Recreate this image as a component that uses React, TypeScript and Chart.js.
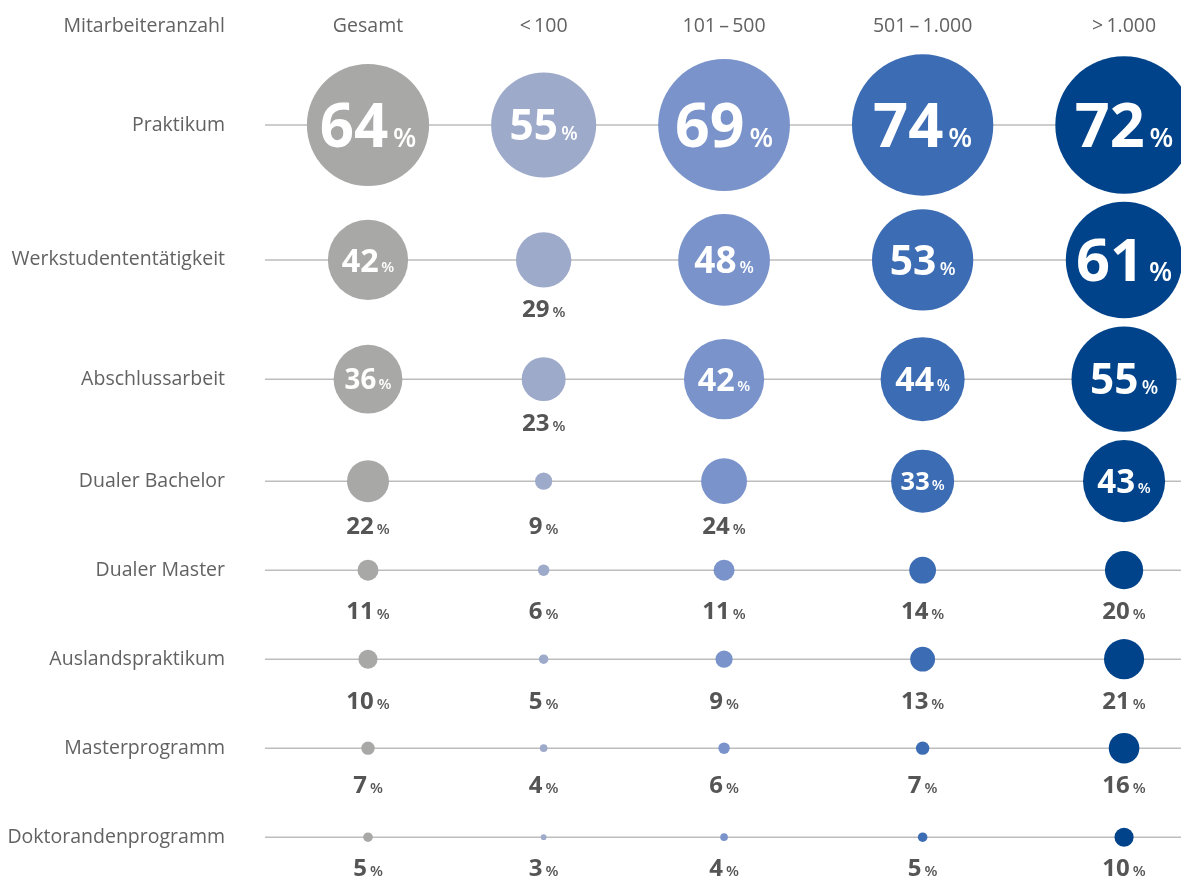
import React, { useEffect, useRef } from 'react';
import { Chart, registerables, BubbleController } from 'chart.js';

// bubble controller without the automatic chart-area inset for large radii
class FlatBubbleController extends (BubbleController as any) {
  static id = 'flatBubble';
  getMaxOverflow() {
    return 0;
  }
}

Chart.register(...registerables, FlatBubbleController as any);

// ---- data ----
const headerLabel = 'Mitarbeiteranzahl';
const columns = ['Gesamt', '<\u2009100', '101\u2009–\u2009500', '501\u2009–\u20091.000', '>\u20091.000'];
const rows = [
  'Praktikum',
  'Werkstudententätigkeit',
  'Abschlussarbeit',
  'Dualer Bachelor',
  'Dualer Master',
  'Auslandspraktikum',
  'Masterprogramm',
  'Doktorandenprogramm',
];
const gesamt = [64, 42, 36, 22, 11, 10, 7, 5];
const unter100 = [55, 29, 23, 9, 6, 5, 4, 3];
const von101bis500 = [69, 48, 42, 24, 11, 9, 6, 4];
const von501bis1000 = [74, 53, 44, 33, 14, 13, 7, 5];
const ueber1000 = [72, 61, 55, 43, 20, 21, 16, 10];
const series = [gesamt, unter100, von101bis500, von501bis1000, ueber1000];

// ---- styles / layout rules ----
const colors = ['#a8a8a7', '#9eaaca', '#7a94cb', '#3c6cb4', '#00438a'];
const W = 1181;
const H = 877;
const R_PER_PCT = 0.955;
const INSIDE_MIN = 30;
const FIRST_COL_X = 368;
const COL_GAP = 62;
const FIRST_ROW_Y = 125;
const ROW_GAP = 6;
const MIN_ROW_STEP = 89;
const OUT_LABEL_OFFSET = 21;
const OUT_LABEL_SPACE = 33;
const LINE_START = 265;
const LABEL_RIGHT = 225;
const HEADER_Y = 26;
const FONT = '"Open Sans", "DejaVu Sans", sans-serif';

const insideFont = (v: number) => (v < 58 ? 0.77 * v : 60 + (v - 64) * 0.15);

export default function App() {
  const ref = useRef<HTMLCanvasElement>(null);

  useEffect(() => {
    document.body.style.margin = '0';
    const canvas = ref.current;
    if (!canvas) return;

    const radius = (v: number) => v * R_PER_PCT;

    // column positions from maximal bubble size per column
    const colMaxR = series.map((s) => Math.max(...s.map(radius)));
    const colX: number[] = [FIRST_COL_X];
    for (let i = 1; i < series.length; i++) {
      colX.push(colX[i - 1] + colMaxR[i - 1] + colMaxR[i] + COL_GAP);
    }

    // row positions from maximal bubble size and label space per row
    const rowTop: number[] = [];
    const rowBottom: number[] = [];
    const rowOutR: number[] = [];
    rows.forEach((_, ri) => {
      const vals = series.map((s) => s[ri]);
      const maxR = Math.max(...vals.map(radius));
      const outside = vals.filter((v) => v < INSIDE_MIN).map(radius);
      const outR = outside.length ? Math.max(...outside) : 0;
      rowOutR.push(outR);
      rowTop.push(maxR);
      rowBottom.push(Math.max(maxR, outside.length ? outR + OUT_LABEL_SPACE : 0));
    });
    const rowY: number[] = [FIRST_ROW_Y];
    for (let i = 1; i < rows.length; i++) {
      rowY.push(rowY[i - 1] + Math.max(rowBottom[i - 1] + rowTop[i] + ROW_GAP, MIN_ROW_STEP));
    }

    const datasets = series.map((s, ci) => ({
      label: columns[ci],
      data: s.map((v, ri) => ({ x: colX[ci], y: rowY[ri], r: radius(v), v, ri })),
      backgroundColor: colors[ci],
      borderWidth: 0,
      hoverRadius: 0,
      hoverBorderWidth: 0,
      clip: false as any,
    }));

    const drawValue = (
      ctx: CanvasRenderingContext2D,
      cx: number,
      baseline: number,
      v: number,
      numSize: number,
      pctSize: number,
      color: string,
      gap: number
    ) => {
      ctx.fillStyle = color;
      ctx.textBaseline = 'alphabetic';
      ctx.textAlign = 'left';
      ctx.font = `bold ${numSize}px ${FONT}`;
      const numW = ctx.measureText(String(v)).width;
      ctx.font = `600 ${pctSize}px ${FONT}`;
      const pctW = ctx.measureText('%').width;
      const total = numW + gap + pctW;
      const x0 = cx - total / 2;
      ctx.font = `bold ${numSize}px ${FONT}`;
      ctx.fillText(String(v), x0, baseline);
      ctx.font = `600 ${pctSize}px ${FONT}`;
      ctx.fillText('%', x0 + numW + gap, baseline);
    };

    const gridPlugin = {
      id: 'rowLines',
      beforeDatasetsDraw(chart: any) {
        const { ctx, scales } = chart;
        ctx.save();
        ctx.strokeStyle = '#bdbdbd';
        ctx.lineWidth = 1.5;
        rowY.forEach((y) => {
          const py = scales.y.getPixelForValue(y);
          ctx.beginPath();
          ctx.moveTo(scales.x.getPixelForValue(LINE_START), py);
          ctx.lineTo(scales.x.getPixelForValue(W), py);
          ctx.stroke();
        });
        ctx.restore();
      },
    };

    const textPlugin = {
      id: 'texts',
      afterDatasetsDraw(chart: any) {
        const { ctx, scales } = chart;
        ctx.save();
        // header
        ctx.font = `19.5px ${FONT}`;
        ctx.fillStyle = '#626262';
        ctx.textBaseline = 'middle';
        ctx.textAlign = 'right';
        ctx.fillText(headerLabel, scales.x.getPixelForValue(LABEL_RIGHT), scales.y.getPixelForValue(HEADER_Y));
        ctx.textAlign = 'center';
        columns.forEach((c, ci) => {
          ctx.fillText(c, scales.x.getPixelForValue(colX[ci]), scales.y.getPixelForValue(HEADER_Y));
        });
        // row labels
        ctx.textAlign = 'right';
        rows.forEach((r, ri) => {
          ctx.fillText(r, scales.x.getPixelForValue(LABEL_RIGHT), scales.y.getPixelForValue(rowY[ri]));
        });
        // values
        chart.data.datasets.forEach((ds: any) => {
          ds.data.forEach((p: any) => {
            const cx = scales.x.getPixelForValue(p.x);
            const cy = scales.y.getPixelForValue(p.y);
            if (p.v >= INSIDE_MIN) {
              const f = insideFont(p.v);
              drawValue(ctx, cx, cy + f * 0.36, p.v, f, Math.max(15, f * 0.45), '#ffffff', f * 0.08);
            } else {
              const labelCenter = cy + rowOutR[p.ri] + OUT_LABEL_OFFSET;
              drawValue(ctx, cx, labelCenter + 8.5, p.v, 24, 15, '#555555', 3);
            }
          });
        });
        ctx.restore();
      },
    };

    const chart = new Chart(canvas, {
      type: 'flatBubble',
      data: { datasets },
      options: {
        responsive: false,
        animation: false,
        events: [],
        layout: { padding: 0 },
        plugins: { legend: { display: false }, tooltip: { enabled: false } },
        scales: {
          x: { type: 'linear', display: false, min: 0, max: W },
          y: { type: 'linear', display: false, min: 0, max: H, reverse: true },
        },
      },
      plugins: [gridPlugin, textPlugin],
    } as any);

    return () => chart.destroy();
  }, []);

  return (
    <div style={{ position: 'absolute', left: 0, top: 0, width: W, height: H, background: '#ffffff' }}>
      <canvas ref={ref} width={W} height={H} style={{ width: W, height: H, display: 'block' }} />
    </div>
  );
}
